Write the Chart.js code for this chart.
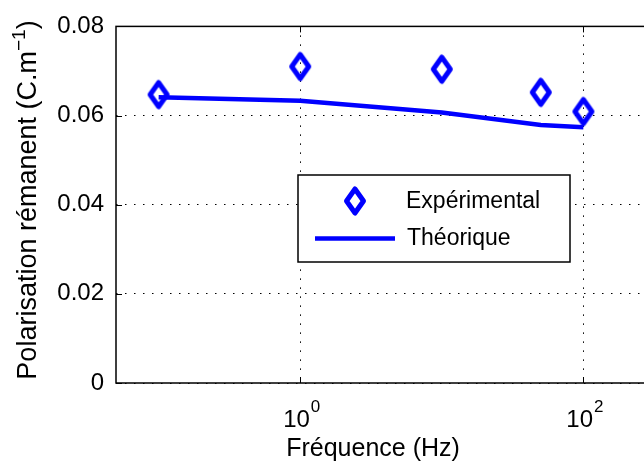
<!DOCTYPE html>
<html>
<head>
<meta charset="utf-8">
<script src="https://cdn.jsdelivr.net/npm/chart.js@4.4.1/dist/chart.umd.min.js"></script>
<style>
  html, body { margin: 0; padding: 0; overflow: hidden; background: #fff; }
  canvas { display: block; }
</style>
</head>
<body>
<canvas id="chart" width="736" height="461"></canvas>
<script>
// data
const frequencies = [0.1, 1, 10, 50, 100];
const experimental = [0.0647, 0.0710, 0.0704, 0.0652, 0.0609];
const theoretical = [0.0641, 0.0633, 0.0607, 0.0579, 0.0574];
const xTickValues = [1, 100];
const yTickValues = [0, 0.02, 0.04, 0.06, 0.08];

const FONT = "'Liberation Sans', Arial, Helvetica, sans-serif";
const BLUE = '#0000ff';

// open diamond marker, a bit taller than wide like the matlab one
const diamond = document.createElement('canvas');
diamond.width = 28;
diamond.height = 36;
(function() {
  const c = diamond.getContext('2d');
  c.strokeStyle = BLUE;
  c.lineWidth = 5;
  c.lineJoin = 'round';
  c.beginPath();
  c.moveTo(14, 18 - 12);
  c.lineTo(14 + 8.5, 18);
  c.lineTo(14, 18 + 12);
  c.lineTo(14 - 8.5, 18);
  c.closePath();
  c.stroke();
})();

const toPoints = ys => ys.map((y, i) => ({ x: frequencies[i], y: y }));

const matlabLook = {
  id: 'matlabLook',
  afterDraw(chart) {
    const ctx = chart.ctx;
    const area = chart.chartArea;
    const xs = chart.scales.x;
    const ys = chart.scales.y;
    ctx.save();

    // small inward tick marks
    ctx.strokeStyle = '#000';
    ctx.lineWidth = 1;
    ctx.beginPath();
    yTickValues.forEach(v => {
      const y = Math.round(ys.getPixelForValue(v)) + 0.5;
      ctx.moveTo(area.left, y);
      ctx.lineTo(area.left + 6, y);
    });
    xTickValues.forEach(v => {
      const x = Math.round(xs.getPixelForValue(v)) + 0.5;
      ctx.moveTo(x, area.bottom);
      ctx.lineTo(x, area.bottom - 6);
      ctx.moveTo(x, area.top);
      ctx.lineTo(x, area.top + 6);
    });
    ctx.stroke();

    // axes box
    ctx.lineWidth = 1.5;
    ctx.strokeRect(area.left, area.top, area.right - area.left, area.bottom - area.top);

    // x tick labels 10^n
    ctx.fillStyle = '#000';
    ctx.textBaseline = 'alphabetic';
    ctx.textAlign = 'left';
    xTickValues.forEach(v => {
      const x = xs.getPixelForValue(v);
      const exp = String(Math.round(Math.log10(v)));
      ctx.font = '24px ' + FONT;
      const wb = ctx.measureText('10').width;
      ctx.font = '17px ' + FONT;
      const we = ctx.measureText(exp).width;
      const x0 = x - (wb + we) / 2 + 1;
      ctx.font = '24px ' + FONT;
      ctx.fillText('10', x0, 427);
      ctx.font = '17px ' + FONT;
      ctx.fillText(exp, x0 + wb + 1, 412);
    });

    // x title
    ctx.font = '25px ' + FONT;
    ctx.textAlign = 'center';
    ctx.fillText('Fréquence (Hz)', 373, 456);

    // y title with superscript
    ctx.save();
    ctx.translate(36, 200);
    ctx.rotate(-Math.PI / 2);
    ctx.font = '27px ' + FONT;
    const t1 = 'Polarisation rémanent (C.m';
    const w1 = ctx.measureText(t1).width;
    const w3 = ctx.measureText(')').width;
    ctx.font = '19px ' + FONT;
    const sup = '\u22121';
    const w2 = ctx.measureText(sup).width;
    let sx = -(w1 + w2 + w3) / 2;
    ctx.textAlign = 'left';
    ctx.font = '27px ' + FONT;
    ctx.fillText(t1, sx, 0);
    ctx.font = '19px ' + FONT;
    ctx.fillText(sup, sx + w1, -11);
    ctx.font = '27px ' + FONT;
    ctx.fillText(')', sx + w1 + w2, 0);
    ctx.restore();

    // legend box inside the axes
    const lx = 298, ly = 175, lw = 272, lh = 87;
    ctx.fillStyle = '#fff';
    ctx.fillRect(lx, ly, lw, lh);
    ctx.strokeStyle = '#000';
    ctx.lineWidth = 1.5;
    ctx.strokeRect(lx, ly, lw, lh);

    const dsExp = chart.data.datasets[0];
    const dsTh = chart.data.datasets[1];
    ctx.drawImage(diamond, 355 - diamond.width / 2, 201 - diamond.height / 2);
    ctx.strokeStyle = dsTh.borderColor;
    ctx.lineWidth = dsTh.borderWidth;
    ctx.beginPath();
    ctx.moveTo(315, 238.5);
    ctx.lineTo(395, 238.5);
    ctx.stroke();

    ctx.fillStyle = '#000';
    ctx.font = '23px ' + FONT;
    ctx.textAlign = 'left';
    ctx.fillText(dsExp.label, 406, 208);
    ctx.fillText(dsTh.label, 407, 245);

    ctx.restore();
  }
};

new Chart(document.getElementById('chart'), {
  type: 'line',
  data: {
    datasets: [
      {
        label: 'Expérimental',
        data: toPoints(experimental),
        showLine: false,
        pointStyle: diamond,
        pointRadius: 10,
        borderColor: BLUE,
        backgroundColor: BLUE
      },
      {
        label: 'Théorique',
        data: toPoints(theoretical),
        borderColor: BLUE,
        borderWidth: 4.5,
        pointRadius: 0,
        tension: 0,
        fill: false
      }
    ]
  },
  options: {
    responsive: false,
    animation: false,
    layout: { padding: { top: 23, right: 6, left: 0, bottom: 0 } },
    plugins: {
      legend: { display: false },
      tooltip: { enabled: false }
    },
    scales: {
      x: {
        type: 'logarithmic',
        min: 0.05,
        max: 1000,
        afterBuildTicks: axis => { axis.ticks = xTickValues.map(v => ({ value: v })); },
        afterFit: axis => { axis.height = 78; },
        ticks: { display: false },
        grid: { color: '#000', lineWidth: 1, drawTicks: false },
        border: { display: false, dash: [1.5, 7.5] }
      },
      y: {
        min: 0,
        max: 0.08,
        afterBuildTicks: axis => { axis.ticks = yTickValues.map(v => ({ value: v })); },
        afterFit: axis => { axis.width = 116; },
        ticks: {
          padding: 12,
          color: '#000',
          font: { family: FONT, size: 24 },
          callback: v => v === 0 ? '0' : v.toFixed(2)
        },
        grid: { color: '#000', lineWidth: 1, drawTicks: false },
        border: { display: false, dash: [1.5, 7.5] }
      }
    }
  },
  plugins: [matlabLook]
});
</script>
</body>
</html>
